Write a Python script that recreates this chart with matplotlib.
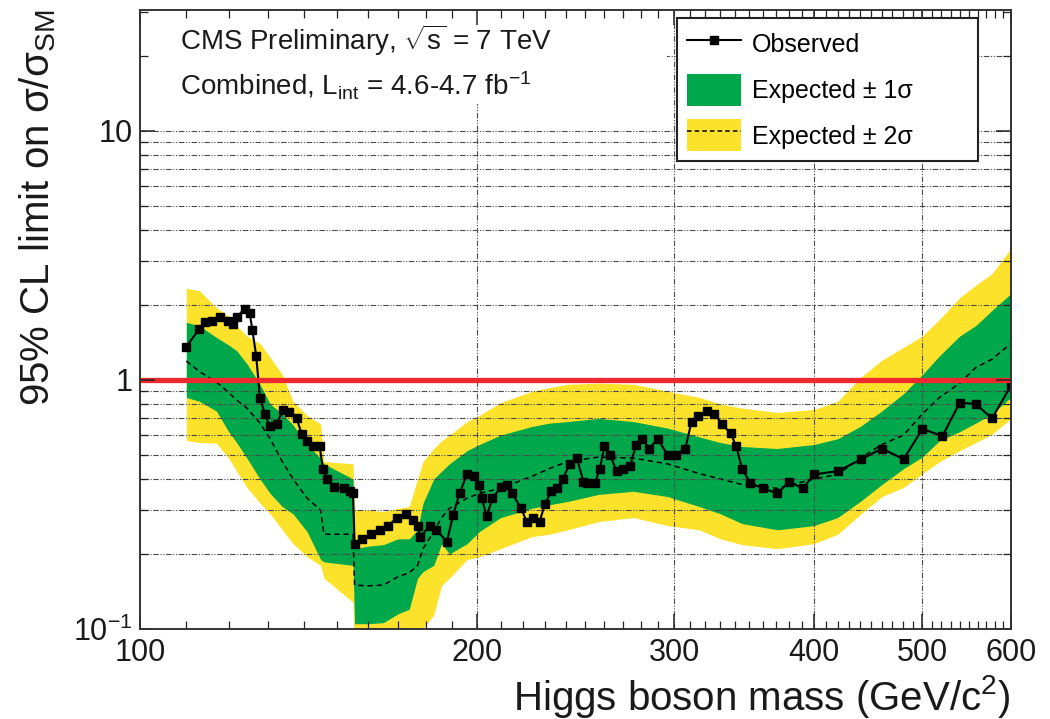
import numpy as np
import matplotlib.pyplot as plt
from matplotlib.lines import Line2D
from matplotlib.patches import Patch, Rectangle
from matplotlib.ticker import FixedLocator, FixedFormatter, NullFormatter

plt.rcParams['font.family'] = ['Liberation Sans', 'DejaVu Sans']
plt.rcParams['mathtext.fontset'] = 'custom'
plt.rcParams['mathtext.rm'] = 'Liberation Sans'
plt.rcParams['mathtext.it'] = 'Liberation Sans:italic'
plt.rcParams['mathtext.bf'] = 'Liberation Sans:bold'

# expected limit with 1 and 2 sigma bands
mass_exp = [110, 113, 117, 120, 122, 124.6, 128, 130.7, 134, 137, 141, 145, 146, 155, 155.5,
            160, 165, 170, 174, 177, 179, 183, 186, 189, 196, 201, 210, 224, 232, 241, 257,
            276, 296, 316, 330, 345, 371, 400, 420, 440, 460, 481, 500, 518, 540, 558, 577, 600]
expected = [1.19, 1.08, 0.98, 0.89, 0.83, 0.77, 0.67, 0.58, 0.47, 0.40, 0.335, 0.30, 0.24, 0.24, 0.15,
            0.149, 0.15, 0.162, 0.168, 0.18, 0.21, 0.246, 0.28, 0.305, 0.335, 0.35, 0.367, 0.41, 0.44,
            0.47, 0.49, 0.485, 0.46, 0.42, 0.40, 0.38, 0.367, 0.40, 0.417, 0.485, 0.55, 0.60, 0.73,
            0.85, 0.97, 1.12, 1.21, 1.40]
hi1 = [1.70, 1.65, 1.48, 1.38, 1.31, 1.16, 0.96, 0.80, 0.73, 0.66, 0.55, 0.485, 0.46, 0.40, 0.21,
       0.215, 0.218, 0.23, 0.23, 0.25, 0.32, 0.40, 0.43, 0.46, 0.52, 0.55, 0.60, 0.65, 0.67, 0.68,
       0.70, 0.68, 0.64, 0.59, 0.56, 0.54, 0.53, 0.55, 0.58, 0.65, 0.75, 0.88, 1.05, 1.25, 1.50,
       1.65, 1.90, 2.22]
lo1 = [0.85, 0.82, 0.75, 0.62, 0.56, 0.485, 0.40, 0.35, 0.31, 0.29, 0.246, 0.19, 0.186, 0.18, 0.105,
       0.105, 0.106, 0.115, 0.12, 0.16, 0.17, 0.18, 0.22, 0.20, 0.22, 0.246, 0.28, 0.305, 0.315,
       0.325, 0.347, 0.357, 0.34, 0.31, 0.29, 0.265, 0.25, 0.26, 0.28, 0.325, 0.38, 0.44, 0.49,
       0.57, 0.62, 0.67, 0.73, 0.85]
hi2 = [2.33, 2.28, 1.95, 1.80, 1.65, 1.50, 1.40, 1.23, 1.05, 0.82, 0.72, 0.665, 0.47, 0.46, 0.30,
       0.30, 0.296, 0.305, 0.31, 0.40, 0.47, 0.53, 0.57, 0.60, 0.68, 0.72, 0.81, 0.90, 0.93, 0.96,
       0.97, 0.96, 0.90, 0.85, 0.80, 0.77, 0.74, 0.76, 0.82, 1.02, 1.20, 1.35, 1.50, 1.75, 2.14,
       2.40, 2.67, 3.37]
lo2 = [0.57, 0.56, 0.557, 0.485, 0.43, 0.37, 0.32, 0.29, 0.25, 0.22, 0.195, 0.18, 0.16, 0.128, 0.07,
       0.07, 0.07, 0.08, 0.085, 0.095, 0.10, 0.114, 0.15, 0.16, 0.19, 0.195, 0.21, 0.235, 0.24,
       0.25, 0.27, 0.28, 0.26, 0.25, 0.23, 0.218, 0.21, 0.22, 0.24, 0.288, 0.34, 0.37, 0.42,
       0.47, 0.52, 0.56, 0.605, 0.70]

# observed limit
mass_obs = [110, 113, 114.3, 116, 118, 119.8, 121, 122, 124, 125.3, 126, 127, 128, 129.3, 130.6,
            132.5, 134.2, 136, 138, 139.5, 141, 142.8, 144.7, 145.7, 147, 149, 152, 154, 155, 155.5,
            158, 161, 164, 166.6, 169.5, 173, 175.3, 177, 178, 181.6, 184, 188, 190.5, 193, 196,
            198.6, 201, 202, 204, 206.5, 210, 212.7, 215, 219, 221.5, 224.5, 227.5, 230, 233, 236,
            238.6, 242, 245.6, 249, 251, 255, 257.5, 260, 263, 266.5, 270, 274, 277.5, 281, 285,
            290, 296, 301, 307, 311, 315, 321, 326, 331, 337, 341, 345, 351, 360, 371, 380, 391,
            400, 420, 441, 460, 481, 500, 521, 540, 558, 577, 600]
observed = [1.36, 1.60, 1.70, 1.73, 1.78, 1.73, 1.68, 1.78, 1.93, 1.86, 1.59, 1.25, 0.846, 0.73, 0.65,
            0.665, 0.76, 0.74, 0.70, 0.605, 0.57, 0.54, 0.54, 0.44, 0.40, 0.37, 0.367, 0.357, 0.35,
            0.22, 0.23, 0.24, 0.25, 0.26, 0.278, 0.29, 0.275, 0.258, 0.235, 0.26, 0.25, 0.224, 0.288,
            0.35, 0.42, 0.41, 0.38, 0.335, 0.283, 0.335, 0.37, 0.38, 0.35, 0.305, 0.27, 0.278, 0.27,
            0.316, 0.357, 0.367, 0.40, 0.46, 0.485, 0.39, 0.385, 0.385, 0.44, 0.54, 0.50, 0.43, 0.44,
            0.45, 0.55, 0.58, 0.53, 0.58, 0.50, 0.50, 0.53, 0.68, 0.716, 0.75, 0.73, 0.665, 0.61,
            0.54, 0.44, 0.385, 0.367, 0.35, 0.39, 0.367, 0.417, 0.43, 0.48, 0.53, 0.48, 0.635,
            0.595, 0.81, 0.80, 0.70, 0.95]

x_major = [100, 200, 300, 400, 500, 600]
x_labels = ['100', '200', '300', '400', '500', '600']
x_minor = [m for m in range(110, 600, 10) if m % 100 != 0]
y_major = [0.1, 1, 10]
y_labels = [r'$\mathregular{10^{-1}}$', '1', '10']
y_minor = [0.2, 0.3, 0.4, 0.5, 0.6, 0.7, 0.8, 0.9, 2, 3, 4, 5, 6, 7, 8, 9, 20, 30]
x_grid = [200, 300, 400, 500]
y_grid = [0.2, 0.3, 0.4, 0.5, 0.6, 0.7, 0.8, 0.9, 1, 2, 3, 4, 5, 6, 7, 8, 9, 10, 20]

green = '#00a84b'
yellow = '#fde22b'
text_color = '#1a1a1a'
grid_style = dict(color='#4a4a4a', lw=0.8, ls=(0, (5, 1.5, 1, 1.5, 1, 1.5)), zorder=2)

fig = plt.figure(figsize=(10.5, 7.19), dpi=100)
ax = fig.add_axes([0.1333, 0.1252, 0.8296, 0.8609])
ax.set_xscale('log')
ax.set_yscale('log')
ax.set_xlim(100, 600)
ax.set_ylim(0.1, 30.5)

ax.fill_between(mass_exp, lo2, hi2, color=yellow, lw=0, zorder=1)
ax.fill_between(mass_exp, lo1, hi1, color=green, lw=0, zorder=1.2)
ax.plot(mass_exp, expected, color='black', lw=1.1, ls=(0, (3.5, 2.5)), zorder=1.5)

for yv in y_grid:
    ax.axhline(yv, **grid_style)
for xv in x_grid:
    ax.axvline(xv, **grid_style)

# white panel behind the header text
ax.add_patch(Rectangle((0, 0.848), 0.605, 0.152, transform=ax.transAxes,
                       facecolor='white', edgecolor='none', zorder=3))

ax.plot(mass_obs, observed, color='black', lw=1.5, marker='s', ms=5.5, zorder=5)
ax.axhline(1, color='#ee2a2e', lw=3.8, zorder=6)

ax.xaxis.set_major_locator(FixedLocator(x_major))
ax.xaxis.set_major_formatter(FixedFormatter(x_labels))
ax.xaxis.set_minor_locator(FixedLocator(x_minor))
ax.xaxis.set_minor_formatter(NullFormatter())
ax.yaxis.set_major_locator(FixedLocator(y_major))
ax.yaxis.set_major_formatter(FixedFormatter(y_labels))
ax.yaxis.set_minor_locator(FixedLocator(y_minor))
ax.yaxis.set_minor_formatter(NullFormatter())

ax.tick_params(which='both', direction='in', top=True, right=True, color='#222222',
               labelsize=22, labelcolor=text_color)
ax.tick_params(which='major', length=11, width=1.1)
ax.tick_params(which='minor', length=6, width=0.9)
ax.tick_params(axis='x', pad=6.5)
ax.tick_params(axis='y', pad=5.5)
ax.xaxis.set_zorder(8)
ax.yaxis.set_zorder(8)
for sp in ax.spines.values():
    sp.set_color('#333333')
    sp.set_linewidth(1.4)
    sp.set_zorder(9)

ax.set_xlabel(r'Higgs boson mass (GeV/c$^{\mathregular{2}}$)', fontsize=29, loc='right',
              color=text_color)
ax.xaxis.set_label_coords(1.0, -0.071)
ax.set_ylabel(r'95% CL limit on σ/σ$_{\mathregular{SM}}$', fontsize=29, loc='top',
              color=text_color)
ax.yaxis.set_label_coords(-0.094, 1.0)

ax.text(0.046, 0.935, r'CMS Preliminary, $\sqrt{\mathregular{s}}$ = 7 TeV', transform=ax.transAxes,
        fontsize=20, va='baseline', color=text_color, zorder=4)
ax.text(0.046, 0.862, r'Combined, L$_{\mathregular{int}}$ = 4.6-4.7 fb$^{\mathregular{-1}}$',
        transform=ax.transAxes, fontsize=20, va='baseline', color=text_color, zorder=4)

handles = [Line2D([], [], color='black', lw=1.5, marker='s', ms=5.5),
           Patch(facecolor=green, edgecolor='none'),
           (Patch(facecolor=yellow, edgecolor='none'),
            Line2D([], [], color='black', lw=1.1, ls=(0, (3, 2))))]
labels = ['Observed', 'Expected ± 1σ', 'Expected ± 2σ']
leg = ax.legend(handles, labels, loc='upper left', bbox_to_anchor=(0.6165, 0.758, 0.3455, 0.229),
                mode='expand', borderaxespad=0, fontsize=18, handlelength=2.15,
                handleheight=1.6, handletextpad=0.45, labelspacing=0.54, borderpad=0.4,
                fancybox=False, framealpha=1, edgecolor='#222222')
leg.get_frame().set_linewidth(1.5)
leg.set_zorder(10)

fig.savefig('out.png', dpi=100)
